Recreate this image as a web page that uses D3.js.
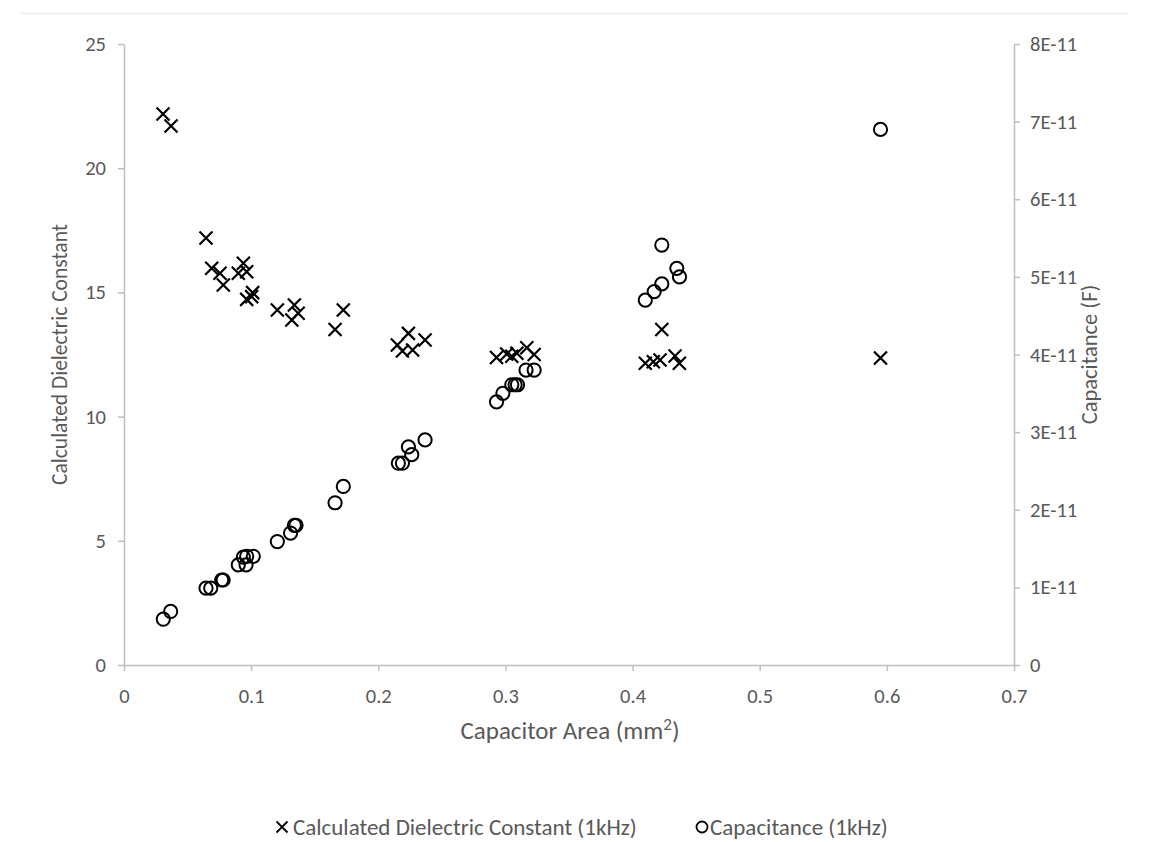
<!DOCTYPE html>
<html>
<head>
<meta charset="utf-8">
<script src="https://cdn.jsdelivr.net/npm/d3@7"></script>
<style>
  html, body { margin: 0; padding: 0; background: #fff; }
  svg text { font-family: Carlito, Lato, "Open Sans", sans-serif; fill: #595959; }
</style>
</head>
<body>
<div id="chart"></div>
<script>
"use strict"

// capacitor area (mm^2), one entry per measured capacitor
const areaDielectric = [0.0307, 0.037, 0.0645, 0.069, 0.0755, 0.0781, 0.0899, 0.0939, 0.0965, 0.0965, 0.1004, 0.1012,
    0.1206, 0.132, 0.134, 0.137, 0.166, 0.1725, 0.215, 0.219, 0.2237, 0.227, 0.2368,
    0.293, 0.301, 0.305, 0.309, 0.3168, 0.3226, 0.41, 0.4163, 0.4216, 0.423, 0.4334, 0.4368, 0.595];
const dielectric = [22.18, 21.7, 17.19, 15.97, 15.77, 15.3, 15.77, 16.17, 15.83, 14.72, 14.83, 14.99,
    14.29, 13.89, 14.49, 14.16, 13.51, 14.29, 12.88, 12.64, 13.35, 12.68, 13.08,
    12.38, 12.52, 12.43, 12.55, 12.77, 12.5, 12.15, 12.21, 12.28, 13.51, 12.44, 12.15, 12.36];

const areaCapacitance = [0.0309, 0.0367, 0.0645, 0.0682, 0.0768, 0.078, 0.0899, 0.096, 0.0939, 0.0965, 0.1017,
    0.1206, 0.131, 0.134, 0.1353, 0.166, 0.1725, 0.2158, 0.219, 0.2263, 0.2237, 0.2368,
    0.293, 0.298, 0.305, 0.3076, 0.3095, 0.3162, 0.3226, 0.41, 0.417, 0.423, 0.4348, 0.4369, 0.423, 0.595];
const capacitance = [0.59e-11, 0.69e-11, 0.99e-11, 0.99e-11, 1.095e-11, 1.095e-11, 1.29e-11, 1.29e-11, 1.39e-11, 1.4e-11, 1.4e-11,
    1.59e-11, 1.7e-11, 1.8e-11, 1.8e-11, 2.09e-11, 2.3e-11, 2.6e-11, 2.6e-11, 2.71e-11, 2.81e-11, 2.9e-11,
    3.39e-11, 3.5e-11, 3.61e-11, 3.61e-11, 3.61e-11, 3.8e-11, 3.8e-11, 4.7e-11, 4.81e-11, 4.91e-11, 5.11e-11, 5.0e-11, 5.41e-11, 6.9e-11];

const xTicks = [0, 0.1, 0.2, 0.3, 0.4, 0.5, 0.6, 0.7];
const leftTicks = [0, 5, 10, 15, 20, 25];
const rightTicks = [0, 1e-11, 2e-11, 3e-11, 4e-11, 5e-11, 6e-11, 7e-11, 8e-11];
const legendLabels = ["Calculated Dielectric Constant (1kHz)", "Capacitance (1kHz)"];

//------------------------SETUP------------------------//
const width = 1149;
const height = 842;
const plot = {left: 124, right: 1014, top: 44, bottom: 665};
const axisColor = "#bfbfbf";

const svg = d3.select("#chart").append("svg")
    .attr("width", width)
    .attr("height", height);

// faint frame of the chart object
svg.append("line")
    .attr("x1", 20).attr("x2", 1128).attr("y1", 13.5).attr("y2", 13.5)
    .attr("stroke", "#f0f0f0").attr("stroke-width", 2);

const xScale = d3.scaleLinear().domain([0, 0.7]).range([plot.left, plot.right]);
const yLeft = d3.scaleLinear().domain([0, 25]).range([plot.bottom, plot.top]);
const yRight = d3.scaleLinear().domain([0, 8e-11]).range([plot.bottom, plot.top]);

//------------------------AXES------------------------//
const styleAxis = (g) => {
    g.select(".domain").attr("stroke", axisColor).attr("stroke-width", 1.5);
    g.selectAll(".tick line").attr("stroke", axisColor).attr("stroke-width", 1.5);
    g.selectAll(".tick text").style("font-size", "20.5px").attr("fill", "#595959");
};

svg.append("g")
    .attr("transform", `translate(0,${plot.bottom})`)
    .call(d3.axisBottom(xScale).tickValues(xTicks).tickSize(6).tickSizeOuter(0).tickPadding(17)
        .tickFormat(d => d3.format("")(+d.toFixed(1))))
    .call(styleAxis);

svg.append("g")
    .attr("transform", `translate(${plot.left},0)`)
    .call(d3.axisLeft(yLeft).tickValues(leftTicks).tickSize(6).tickSizeOuter(0).tickPadding(12))
    .call(styleAxis);

svg.append("g")
    .attr("transform", `translate(${plot.right},0)`)
    .call(d3.axisRight(yRight).tickValues(rightTicks).tickSize(6).tickSizeOuter(0).tickPadding(10)
        .tickFormat(d => d === 0 ? "0" : Math.round(d / 1e-11) + "E-11"))
    .call(styleAxis);

// axis titles
svg.append("text")
    .attr("transform", `translate(67,${(plot.top + plot.bottom) / 2}) rotate(-90)`)
    .attr("text-anchor", "middle")
    .style("font-size", "21.5px")
    .text("Calculated Dielectric Constant");

svg.append("text")
    .attr("transform", `translate(1097,${(plot.top + plot.bottom) / 2}) rotate(-90)`)
    .attr("text-anchor", "middle")
    .style("font-size", "22.5px")
    .text("Capacitance (F)");

const xTitle = svg.append("text")
    .attr("x", (plot.left + plot.right) / 2 + 1)
    .attr("y", 739)
    .attr("text-anchor", "middle")
    .style("font-size", "25px");
xTitle.append("tspan").text("Capacitor Area (mm");
xTitle.append("tspan").attr("dy", -9).style("font-size", "17px").text("2");
xTitle.append("tspan").attr("dy", 9).text(")");

//------------------------MARKS------------------------//
const crossPath = (s) => `M${-s},${-s}L${s},${s}M${-s},${s}L${s},${-s}`;

svg.append("g").selectAll("path")
    .data(d3.range(dielectric.length))
    .join("path")
    .attr("transform", i => `translate(${xScale(areaDielectric[i])},${yLeft(dielectric[i])})`)
    .attr("d", crossPath(6.5))
    .attr("fill", "none")
    .attr("stroke", "#000")
    .attr("stroke-width", 2.2);

svg.append("g").selectAll("circle")
    .data(d3.range(capacitance.length))
    .join("circle")
    .attr("cx", i => xScale(areaCapacitance[i]))
    .attr("cy", i => yRight(capacitance[i]))
    .attr("r", 6.6)
    .attr("fill", "none")
    .attr("stroke", "#000")
    .attr("stroke-width", 2);

//------------------------LEGEND------------------------//
const legendY = 827;
const leg1 = svg.append("g").attr("transform", `translate(282,${legendY})`);
leg1.append("path").attr("d", crossPath(5.5)).attr("stroke", "#000").attr("stroke-width", 1.8).attr("fill", "none");
leg1.append("text").attr("x", 11).attr("y", 8).style("font-size", "23px").text(legendLabels[0]);

const leg2 = svg.append("g").attr("transform", `translate(702,${legendY})`);
leg2.append("circle").attr("r", 5.5).attr("stroke", "#000").attr("stroke-width", 1.8).attr("fill", "none");
leg2.append("text").attr("x", 8).attr("y", 8).style("font-size", "23px").text(legendLabels[1]);
</script>
</body>
</html>
